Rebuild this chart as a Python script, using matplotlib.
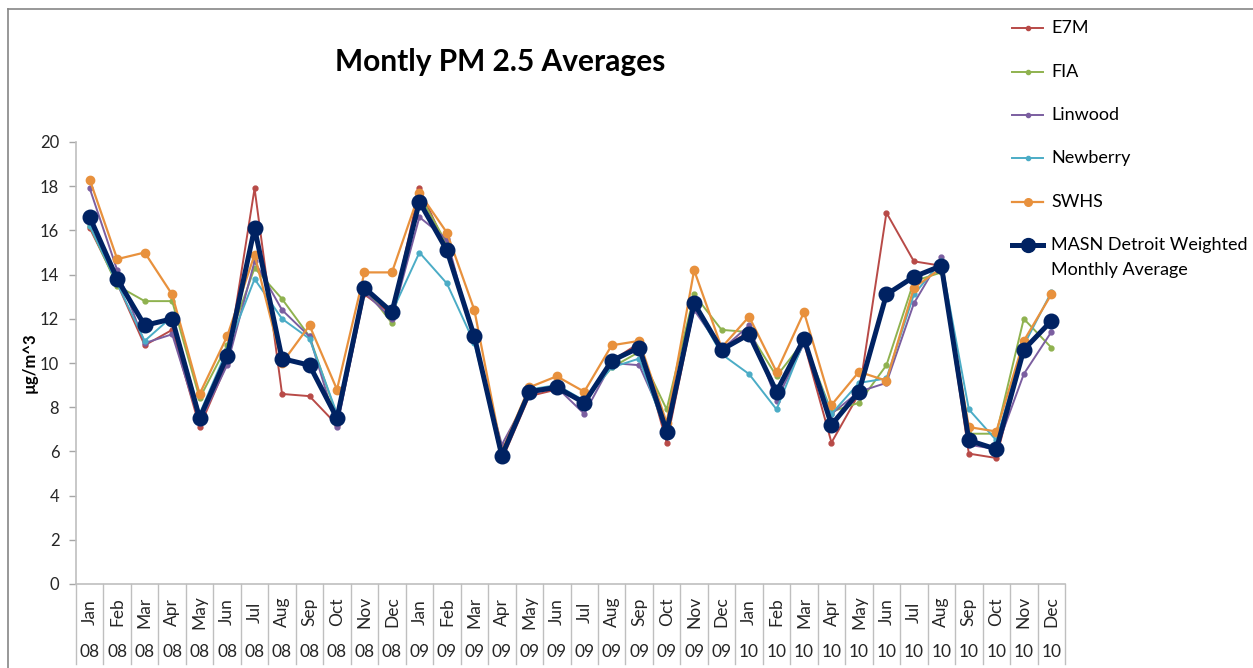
import matplotlib
matplotlib.use("Agg")
import matplotlib.pyplot as plt
from matplotlib.lines import Line2D
from matplotlib.transforms import blended_transform_factory

plt.rcParams['font.family'] = ['Lato', 'DejaVu Sans']

months = ["Jan", "Feb", "Mar", "Apr", "May", "Jun", "Jul", "Aug", "Sep", "Oct", "Nov", "Dec"] * 3
years = ["08"] * 12 + ["09"] * 12 + ["10"] * 12

e7m = [16.1, 13.6, 10.8, 11.5, 7.1, 10.0, 17.9, 8.6, 8.5, 7.2, 13.1, 12.2,
       17.9, 15.2, 11.1, 5.6, 8.5, 8.8, 8.2, 10.1, 10.9, 6.4, 12.5, 10.7,
       11.4, 8.6, 10.9, 6.4, 8.6, 16.8, 14.6, 14.4, 5.9, 5.7, 10.6, 11.8]
fia = [16.2, 13.5, 12.8, 12.8, 8.4, 10.8, 14.3, 12.9, 11.2, 7.6, 13.4, 11.8,
       17.6, 15.4, 11.1, 6.0, 8.7, 8.9, 8.3, 9.8, 10.5, 7.9, 13.1, 11.5,
       11.4, 9.4, 11.0, 7.8, 8.2, 9.9, 13.7, 14.1, 6.8, 6.8, 12.0, 10.7]
linwood = [17.9, 14.2, 10.9, 11.3, 7.3, 9.9, 14.6, 12.4, 11.2, 7.1, 13.2, 12.0,
           16.6, 15.6, 11.0, 6.3, 8.6, 8.9, 7.7, 10.0, 9.9, 7.1, 12.4, 10.6,
           11.7, 8.3, 10.9, 7.7, 8.7, 9.1, 12.7, 14.8, 6.3, 6.1, 9.5, 11.4]
newberry = [16.2, 13.6, 11.0, 12.1, 7.7, 10.6, 13.8, 12.0, 11.1, 7.7, 13.4, 12.3,
            15.0, 13.6, 10.9, 5.9, 8.8, 9.0, 8.3, 9.8, 10.2, 6.8, 12.6, 10.4,
            9.5, 7.9, 11.0, 7.7, 9.1, 9.3, 13.1, 14.6, 7.9, 6.5, 10.8, 13.2]
swhs = [18.3, 14.7, 15.0, 13.1, 8.6, 11.2, 14.9, 10.0, 11.7, 8.8, 14.1, 14.1,
        17.7, 15.9, 12.4, 6.0, 8.9, 9.4, 8.7, 10.8, 11.0, 7.3, 14.2, 10.7,
        12.1, 9.6, 12.3, 8.1, 9.6, 9.2, 13.4, 14.3, 7.1, 6.9, 11.0, 13.1]
masn = [16.6, 13.8, 11.7, 12.0, 7.5, 10.3, 16.1, 10.2, 9.9, 7.5, 13.4, 12.3,
        17.3, 15.1, 11.2, 5.8, 8.7, 8.9, 8.2, 10.1, 10.7, 6.9, 12.7, 10.6,
        11.3, 8.7, 11.1, 7.2, 8.7, 13.1, 13.9, 14.4, 6.5, 6.1, 10.6, 11.9]

series = [
    ("E7M", e7m, "#B84A47", 1.4, 3.5),
    ("FIA", fia, "#8FB24F", 1.4, 3.5),
    ("Linwood", linwood, "#7B5EA0", 1.4, 3.5),
    ("Newberry", newberry, "#4BACC6", 1.4, 3.5),
    ("SWHS", swhs, "#E8913D", 1.6, 6.0),
]
avg_label = "MASN Detroit Weighted"
avg_label2 = "Monthly Average"
avg_color = "#002262"

W, H = 1253, 668
fig = plt.figure(figsize=(W / 100, H / 100), dpi=100)
fig.patch.set_facecolor("white")

# axes box in pixel terms: x 76..1065, y 142..584 (from top)
ax = fig.add_axes([76 / W, (H - 584) / H, (1065 - 76) / W, (584 - 142) / H])
x = list(range(len(months)))

for name, vals, color, lw, ms in series:
    ax.plot(x, vals, color=color, lw=lw, marker="o", ms=ms, zorder=2)
ax.plot(x, masn, color=avg_color, lw=3.6, marker="o", ms=10.5, zorder=3)

ax.set_xlim(-0.5, len(months) - 0.5)
ax.set_ylim(0, 20)
ax.set_yticks(range(0, 21, 2))
ax.tick_params(axis="y", length=5, width=1, color="#A6A6A6", pad=7,
               labelsize=12, labelcolor="#262626")
ax.set_xticks([])
for s in ["top", "right"]:
    ax.spines[s].set_visible(False)
for s in ["left", "bottom"]:
    ax.spines[s].set_color("#BFBFBF")
    ax.spines[s].set_linewidth(1.2)

fig.text(30 / W, 1 - 363 / H, "µg/m^3", rotation=90, ha="center", va="center",
         fontsize=12, fontweight="bold", color="black")

# two-level category axis: months (rotated) over years, with separators
trans = blended_transform_factory(ax.transData, ax.transAxes)
ax_h = 584 - 142
for i in range(len(months) + 1):
    ax.add_line(Line2D([i - 0.5, i - 0.5], [0, -(664 - 584) / ax_h],
                       transform=trans, color="#BFBFBF", lw=1.0, clip_on=False))
for i, (m, yy) in enumerate(zip(months, years)):
    ax.text(i, -(612 - 584) / ax_h, m, transform=trans, rotation=90,
            ha="center", va="center", fontsize=12.5, color="#262626")
    ax.text(i, -(652 - 584) / ax_h, yy, transform=trans,
            ha="center", va="center", fontsize=12.5, color="#262626")

fig.text(500 / W, 1 - 62 / H, "Montly PM 2.5 Averages", ha="center", va="center",
         fontsize=21.5, fontweight="bold", color="black")

# legend drawn at the right
lx0, lx1, ltx = 1012, 1043, 1051
rows = [28, 72, 115, 158, 202]
for (name, vals, color, lw, ms), ry in zip(series, rows):
    yf = 1 - ry / H
    fig.add_artist(Line2D([lx0 / W, lx1 / W], [yf, yf], color=color, lw=lw))
    fig.add_artist(Line2D([(lx0 + lx1) / 2 / W], [yf], color=color, marker="o", ms=ms - 0.5))
    fig.text(ltx / W, yf, name, ha="left", va="center", fontsize=13, color="black")
yf = 1 - 245 / H
fig.add_artist(Line2D([lx0 / W, lx1 / W], [yf, yf], color=avg_color, lw=3.6))
fig.add_artist(Line2D([(lx0 + lx1) / 2 / W], [yf], color=avg_color, marker="o", ms=10))
fig.text(ltx / W, yf, avg_label, ha="left", va="center", fontsize=13, color="black")
fig.text(ltx / W, 1 - 270 / H, avg_label2, ha="left", va="center", fontsize=13, color="black")

# chart frame (left and top edges)
fig.add_artist(Line2D([8 / W, 8 / W], [0, 1 - 9 / H], color="#868686", lw=1.2))
fig.add_artist(Line2D([8 / W, 1], [1 - 9 / H, 1 - 9 / H], color="#868686", lw=1.2))

fig.savefig("out.png", dpi=100, facecolor="white")
